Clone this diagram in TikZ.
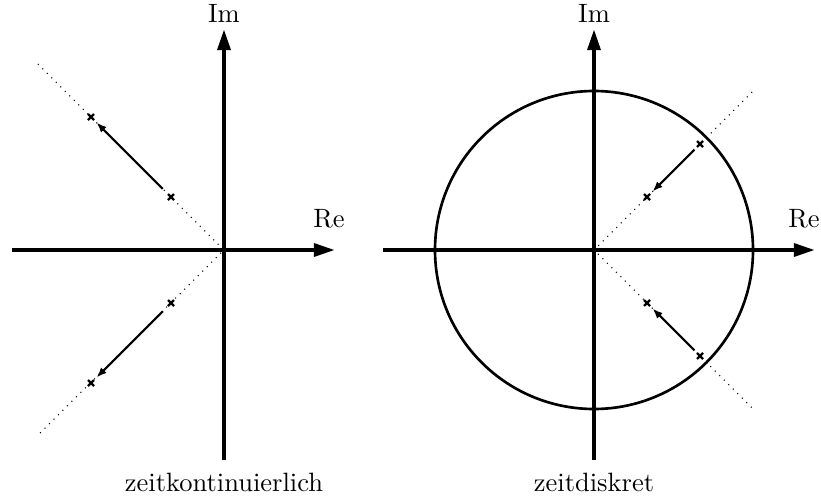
\documentclass[tikz,border=0pt]{standalone}
\usepackage{tikz}
\usetikzlibrary{arrows.meta}
\tikzset{
  axis/.style={line width=1.6pt,-{Triangle[length=8pt,width=4.8pt]}},
  pole/.style={line width=0.9pt},
  polemove/.style={line width=0.8pt,-{Latex[length=3.8pt,width=3pt]}},
  asym/.style={dotted,line width=0.4pt},
  unitcirc/.style={line width=1pt},
}

\begin{document}
\begin{tikzpicture}[x=0.3774pt,y=0.3774pt]
            % Bounding box
            \useasboundingbox (-224,-251) rectangle (597,250);
            % Coordinates (zeitkontinuierlich)
            \coordinate (LO) at (0,0);
            \coordinate (LW) at (-212,0);
            \coordinate (LE) at (111,0);
            \coordinate (LS) at (0,-210);
            \coordinate (LN) at (0,221);
            \coordinate (LA) at (-186,186);
            \coordinate (LB) at (-186,-185);
            \coordinate (L1) at (-53,53);
            \coordinate (L2) at (-133,133);
            \coordinate (L3) at (-53,-53);
            \coordinate (L4) at (-133,-133);
            % Coordinates (zeitdiskret)
            \coordinate (RO) at (370,0);
            \coordinate (RW) at (159,0);
            \coordinate (RE) at (591,0);
            \coordinate (RS) at (370,-210);
            \coordinate (RN) at (370,221);
            \coordinate (RA) at (528,158);
            \coordinate (RB) at (528,-158);
            \coordinate (R1) at (423,53);
            \coordinate (R2) at (476,106);
            \coordinate (R3) at (423,-53);
            \coordinate (R4) at (476,-106);
            % Asymptotes
            \draw[asym] (LA)--(LO)--(LB);
            \draw[asym] (RA)--(RO)--(RB);
            % Unit circle
            \draw[unitcirc] (RO) circle (159);
            % Axes
            \draw[axis] (LW)--(LE);
            \draw[axis] (LS)--(LN);
            \draw[axis] (RW)--(RE);
            \draw[axis] (RS)--(RN);
            % Poles
            \foreach \P in {L1, L2, L3, L4, R1, R2, R3, R4} {
                \draw[pole] (\P) +(-3,-3) -- +(3,3) (\P) +(-3,3) -- +(3,-3);
            }
            % Pole movement
            \draw[polemove,shorten <=4.4pt,shorten >=3pt] (L1)--(L2);
            \draw[polemove,shorten <=4.4pt,shorten >=3pt] (L3)--(L4);
            \draw[polemove,shorten <=3pt,shorten >=3pt] (R2)--(R1);
            \draw[polemove,shorten <=3pt,shorten >=3pt] (R4)--(R3);
            % Labels
            \node[anchor=base] (LIm) at (0,227) {Im};
            \node[anchor=base] (LRe) at (105,23) {Re};
            \node[anchor=base] (RIm) at (370,227) {Im};
            \node[anchor=base] (RRe) at (580,23) {Re};
            \node[anchor=base] (Lcap) at (0,-241) {zeitkontinuierlich};
            \node[anchor=base] (Rcap) at (370,-241) {zeitdiskret};
\end{tikzpicture}
\end{document}
